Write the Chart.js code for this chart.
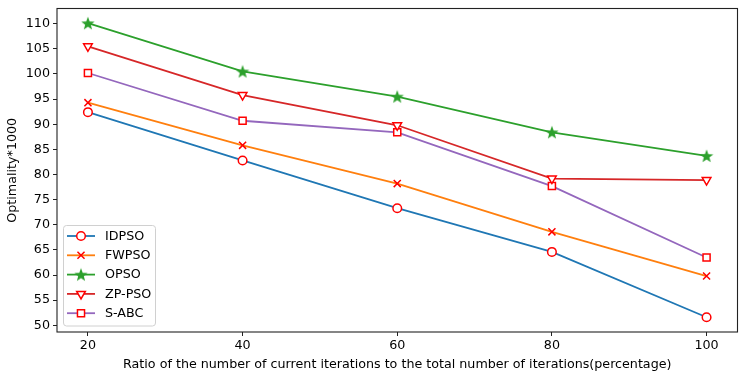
<!DOCTYPE html>
<html>
<head>
<meta charset="utf-8">
<script src="https://cdn.jsdelivr.net/npm/chart.js@4/dist/chart.umd.min.js"></script>
<style>
  html, body { margin: 0; padding: 0; background: #fff; }
  #wrap { width: 746px; height: 376px; position: relative; }
</style>
</head>
<body>
<div id="wrap"><canvas id="chart"></canvas></div>
<script>
// data
const ratios = [20, 40, 60, 80, 100];
const idpso = [92.4, 82.8, 73.3, 64.6, 51.6];
const fwpso = [94.3, 85.8, 78.2, 68.6, 59.8];
const opso = [110.1, 100.5, 95.5, 88.4, 83.7];
const zppso = [105.5, 95.8, 89.8, 79.2, 78.9];
const sabc = [100.2, 90.7, 88.4, 77.7, 63.5];
const seriesNames = ['IDPSO', 'FWPSO', 'OPSO', 'ZP-PSO', 'S-ABC'];
const xTicks = [20, 40, 60, 80, 100];

const FONT = 'DejaVu Sans';
const FS = 12.7;

// filled five point star for OPSO
function makeStar(r, color) {
    const c = document.createElement('canvas');
    const s = Math.ceil(r * 2 + 2);
    c.width = s; c.height = s;
    const g = c.getContext('2d');
    g.fillStyle = color;
    g.beginPath();
    for (let i = 0; i < 10; i++) {
        const rad = i % 2 === 0 ? r : r * 0.42;
        const a = -Math.PI / 2 + i * Math.PI / 5;
        const px = s / 2 + rad * Math.cos(a);
        const py = s / 2 + 0.6 + rad * Math.sin(a);
        if (i === 0) g.moveTo(px, py); else g.lineTo(px, py);
    }
    g.closePath();
    g.fill();
    return c;
}
const starImg = makeStar(7, '#2ca02c');

const pts = (vals) => ratios.map((x, i) => ({ x, y: vals[i] }));

const styles = [
    { color: '#1f77b4', pointStyle: 'circle', radius: 4.3, rot: 0, fill: '#fff', edge: '#ff0000' },
    { color: '#ff7f0e', pointStyle: 'crossRot', radius: 5, rot: 0, fill: '#fff', edge: '#ff0000' },
    { color: '#2ca02c', pointStyle: starImg, radius: 7, rot: 0, fill: '#2ca02c', edge: '#2ca02c' },
    { color: '#d62728', pointStyle: 'triangle', radius: 5, rot: 180, fill: '#fff', edge: '#ff0000' },
    { color: '#9467bd', pointStyle: 'rect', radius: 5, rot: 0, fill: '#fff', edge: '#ff0000' }
];
const allValues = [idpso, fwpso, opso, zppso, sabc];

const datasets = allValues.map((vals, i) => ({
    label: seriesNames[i],
    data: pts(vals),
    borderColor: styles[i].color,
    borderWidth: 1.8,
    tension: 0,
    pointStyle: styles[i].pointStyle,
    pointRadius: styles[i].radius,
    pointRotation: styles[i].rot,
    pointBackgroundColor: styles[i].fill,
    pointBorderColor: styles[i].edge,
    pointBorderWidth: 1.5
}));

// frame around the plot
const framePlugin = {
    id: 'frame',
    afterDatasetsDraw(chart) {
        const { ctx, chartArea: a } = chart;
        ctx.save();
        ctx.strokeStyle = '#222';
        ctx.lineWidth = 1.1;
        ctx.strokeRect(a.left, a.top, a.right - a.left, a.bottom - a.top);
        ctx.restore();
    }
};

// legend inside the axes, lower left
const boxLegend = {
    id: 'boxLegend',
    afterDraw(chart) {
        const { ctx } = chart;
        const x0 = 63.5, y0 = 225.5, w = 92, h = 100.5, rowH = 19.3;
        ctx.save();
        ctx.beginPath();
        ctx.roundRect(x0, y0, w, h, 3);
        ctx.fillStyle = 'rgba(255,255,255,0.85)';
        ctx.fill();
        ctx.strokeStyle = '#d0d0d0';
        ctx.lineWidth = 1;
        ctx.stroke();
        ctx.font = `${FS}px "${FONT}"`;
        ctx.textBaseline = 'middle';
        chart.data.datasets.forEach((ds, i) => {
            const cy = 236 + i * rowH;
            ctx.strokeStyle = ds.borderColor;
            ctx.lineWidth = 1.8;
            ctx.beginPath();
            ctx.moveTo(67, cy);
            ctx.lineTo(95, cy);
            ctx.stroke();
            ctx.fillStyle = ds.pointBackgroundColor;
            ctx.strokeStyle = ds.pointBorderColor;
            ctx.lineWidth = ds.pointBorderWidth;
            Chart.helpers.drawPoint(ctx, {
                pointStyle: ds.pointStyle,
                rotation: ds.pointRotation,
                radius: ds.pointRadius,
                borderWidth: ds.pointBorderWidth
            }, 81, cy);
            ctx.fillStyle = '#000';
            ctx.fillText(ds.label, 105, cy + 0.5);
        });
        ctx.restore();
    }
};

new Chart(document.getElementById('chart'), {
    type: 'line',
    data: { datasets },
    options: {
        responsive: true,
        maintainAspectRatio: false,
        animation: false,
        layout: { padding: { top: 5.5, right: 4, left: 0, bottom: 0 } },
        plugins: {
            legend: { display: false },
            tooltip: { enabled: false }
        },
        scales: {
            x: {
                type: 'linear',
                min: 16,
                max: 104,
                afterFit: (s) => { s.height = 44; s.paddingLeft = 0; s.paddingRight = 0; },
                afterBuildTicks: (s) => { s.ticks = xTicks.map(v => ({ value: v })); },
                grid: { drawOnChartArea: false, drawTicks: true, tickLength: 4, color: '#222' },
                border: { display: false },
                ticks: { color: '#000', padding: 2, font: { family: FONT, size: FS }, maxRotation: 0 },
                title: {
                    display: true,
                    text: 'Ratio of the number of current iterations to the total number of iterations(percentage)',
                    color: '#000',
                    font: { family: FONT, size: FS },
                    padding: { top: 2, bottom: 4 }
                }
            },
            y: {
                min: 48.67,
                max: 113.03,
                afterFit: (s) => { s.width = 57; s.paddingTop = 0; s.paddingBottom = 0; },
                grid: { drawOnChartArea: false, drawTicks: true, tickLength: 4, color: '#222' },
                border: { display: false },
                ticks: { stepSize: 5, includeBounds: false, color: '#000', padding: 3, font: { family: FONT, size: FS } },
                title: {
                    display: true,
                    text: 'Optimality*1000',
                    color: '#000',
                    font: { family: FONT, size: FS },
                    padding: { top: 5, bottom: 2 }
                }
            }
        }
    },
    plugins: [framePlugin, boxLegend]
});
</script>
</body>
</html>
